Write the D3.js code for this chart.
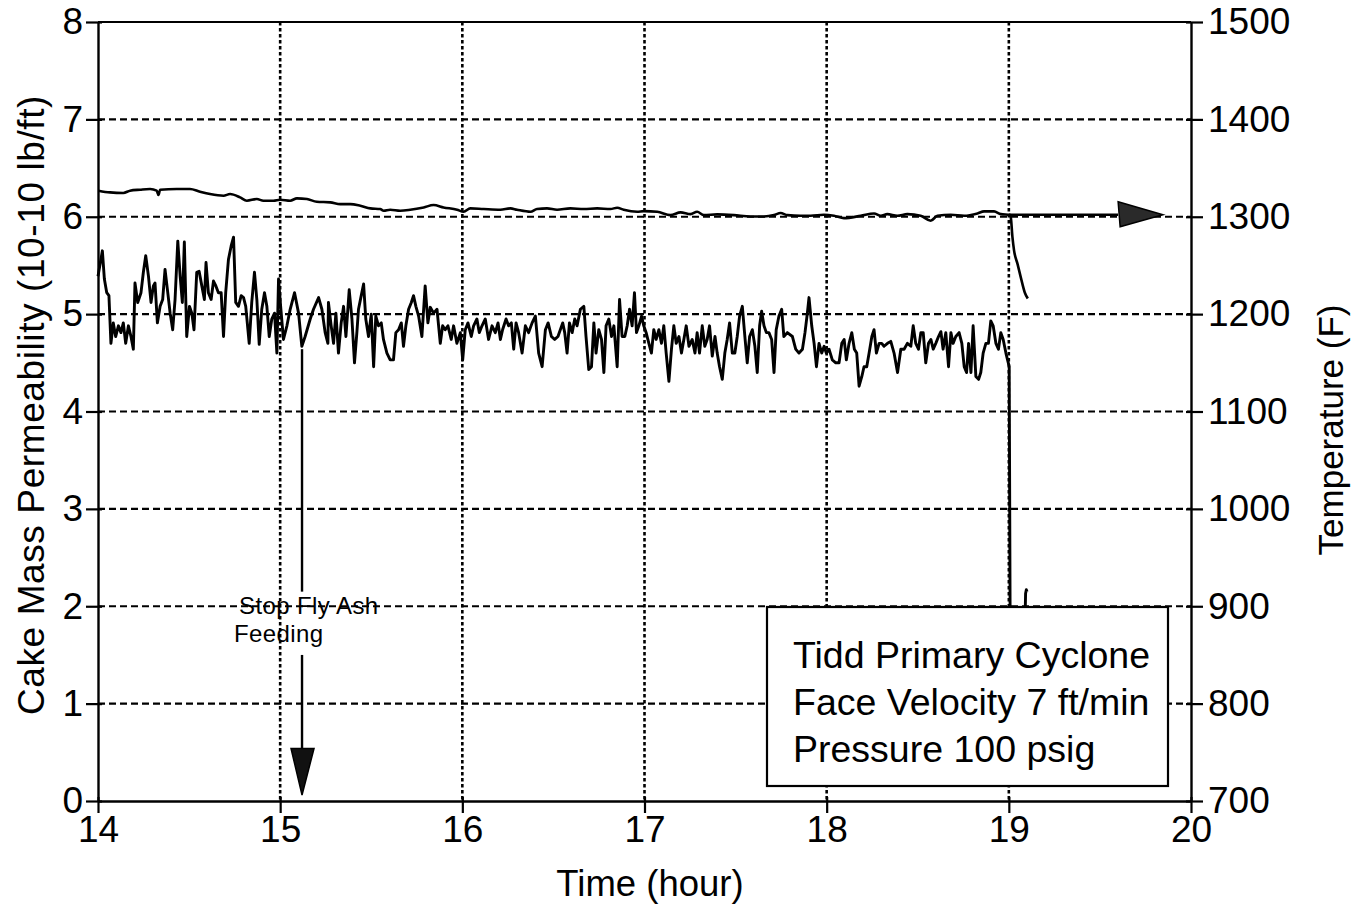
<!DOCTYPE html>
<html><head><meta charset="utf-8">
<script src="https://cdn.jsdelivr.net/npm/d3@7"></script>
<style>
html,body{margin:0;padding:0;background:#fff;}
svg text{font-family:"Liberation Sans",Arial,Helvetica,sans-serif;fill:#000;}
</style></head>
<body><svg id="chart" width="1361" height="909"></svg>
<script>
// ---- data ----
const xTicks = [14, 15, 16, 17, 18, 19, 20];
const yLeftTicks = [0, 1, 2, 3, 4, 5, 6, 7, 8];
const yRightTicks = [700, 800, 900, 1000, 1100, 1200, 1300, 1400, 1500];
const xGrid = [15, 16, 17, 18, 19];
const yGrid = [1, 2, 3, 4, 5, 6, 7];

const permTime = [
14.000,14.024,14.035,14.048,14.060,14.071,14.084,14.097,14.112,14.126,14.139,14.152,14.167,14.181,14.194,14.203,14.218,14.236,14.249,14.262,
14.277,14.291,14.304,14.313,14.326,14.341,14.355,14.368,14.383,14.396,14.410,14.423,14.438,14.451,14.463,14.474,14.487,14.502,14.515,14.527,
14.542,14.555,14.570,14.584,14.593,14.606,14.621,14.634,14.647,14.661,14.676,14.689,14.701,14.716,14.731,14.744,14.756,14.771,14.786,14.799,
14.811,14.830,14.844,14.859,14.872,14.885,14.899,14.914,14.927,14.940,14.954,14.969,14.982,14.991,15.004,15.018,15.037,15.055,15.079,15.101,
15.119,15.137,15.165,15.183,15.211,15.229,15.247,15.262,
15.265,15.280,15.293,15.306,15.320,15.335,15.348,15.361,15.379,15.394,15.408,15.421,15.430,15.445,15.458,15.470,15.485,15.500,15.513,15.525,
15.540,15.555,15.567,15.586,15.604,15.622,15.635,15.650,15.665,15.677,15.690,15.705,15.720,15.732,15.745,15.760,15.778,15.796,15.811,15.824,
15.842,15.861,15.879,15.892,15.906,15.921,15.939,15.952,15.970,15.989,16.002,16.016,16.031,16.049,16.062,16.080,16.093,16.108,16.126,16.144,
16.163,16.181,16.196,16.209,16.221,16.240,16.254,16.269,16.282,16.295,16.309,16.328,16.346,16.364,16.383,16.401,16.419,16.438,16.456,16.471,
16.489,16.507,16.525,
16.551,16.562,16.575,16.588,16.603,16.617,16.630,16.648,16.667,16.679,16.694,16.709,16.722,16.734,16.749,16.764,16.777,16.789,16.804,16.819,
16.832,16.850,16.863,16.877,16.892,16.905,16.918,16.932,16.945,16.956,16.969,16.984,16.996,17.009,17.024,17.038,17.051,17.064,17.079,17.093,
17.106,17.119,17.134,17.148,17.161,17.174,17.189,17.203,17.216,17.229,17.244,17.262,17.277,17.289,17.302,17.317,17.331,17.344,17.357,17.372,
17.387,17.399,17.412,17.427,17.441,17.454,17.467,17.482,17.496,17.509,17.522,17.537,17.551,17.564,17.577,17.592,17.606,17.619,17.632,17.643,
17.656,17.669,17.683,17.698,17.711,17.723,17.738,17.753,17.765,17.784,
17.812,17.830,17.848,17.867,17.881,17.894,17.903,17.918,17.931,17.944,17.958,17.973,17.986,17.998,18.013,18.031,18.050,18.068,18.083,18.096,
18.108,18.123,18.138,18.152,18.165,18.178,18.193,18.205,18.220,18.233,18.248,18.260,18.273,18.288,18.302,18.315,18.334,18.352,18.370,18.389,
18.407,18.425,18.443,18.462,18.475,18.489,18.504,18.517,18.530,18.544,18.559,18.572,18.585,18.599,18.614,18.627,18.639,18.654,18.669,18.682,
18.694,18.709,18.727,18.742,18.755,18.768,18.779,18.792,18.804,18.819,18.834,18.846,18.859,18.874,18.888,18.901,18.914,18.929,18.943,18.956,
18.969,18.984,18.993,19.002,19.010,19.060,19.090,19.092,19.096,19.100
];
const permValue = [
5.39,5.65,5.36,5.22,5.19,4.70,4.91,4.77,4.88,4.81,4.91,4.70,4.88,4.77,4.64,5.32,5.12,5.22,5.43,5.60,
5.39,5.12,5.29,5.32,4.91,5.08,5.15,5.46,5.22,5.01,4.84,5.15,5.75,5.39,5.12,5.74,4.77,5.08,5.01,4.84,
5.43,5.44,5.29,5.15,5.53,5.22,5.15,5.34,5.29,5.22,5.22,4.77,5.22,5.56,5.70,5.79,5.12,5.08,5.19,5.17,
5.08,4.70,5.12,5.43,5.15,4.69,5.05,5.22,5.08,4.77,4.95,5.01,4.60,5.36,5.05,4.74,4.88,5.05,5.22,5.01,
4.67,4.77,4.95,5.05,5.17,5.05,4.81,4.70,
5.12,4.88,4.70,5.01,4.60,4.91,5.08,4.77,5.25,4.95,4.50,4.81,5.05,5.19,5.31,4.95,4.77,5.00,4.46,4.98,
4.88,4.91,4.74,4.60,4.53,4.53,4.81,4.84,4.91,4.67,4.88,5.05,5.12,5.19,5.08,4.98,4.77,5.29,4.91,5.07,
5.01,5.05,4.70,4.88,4.84,4.88,4.74,4.88,4.70,4.81,4.53,4.84,4.91,4.77,4.88,4.95,4.81,4.88,4.95,4.74,
4.88,4.81,4.91,4.74,4.84,4.95,4.88,4.91,4.64,4.91,4.81,4.60,4.88,4.81,4.91,4.98,4.60,4.46,4.84,4.91,
4.77,4.74,4.77,
4.91,4.81,4.60,4.91,4.81,4.95,4.88,5.05,5.08,4.77,4.43,4.46,4.91,4.60,4.84,4.74,4.40,4.88,4.95,4.77,
4.88,4.46,5.15,4.77,4.77,4.88,5.05,4.88,5.22,4.81,4.88,4.98,4.88,4.81,4.70,4.60,4.84,4.74,4.84,4.70,
4.88,4.60,4.31,4.64,4.88,4.70,4.77,4.60,4.74,4.88,4.67,4.74,4.60,4.81,4.60,4.88,4.67,4.74,4.88,4.57,
4.77,4.60,4.46,4.33,4.60,4.74,4.91,4.60,4.60,4.77,4.98,5.08,4.77,4.50,4.77,4.84,4.67,4.40,4.88,5.03,
4.88,4.81,4.81,4.74,4.40,4.84,4.98,5.05,4.77,4.81,
4.77,4.64,4.60,4.64,4.81,5.01,5.17,4.88,4.70,4.46,4.70,4.60,4.67,4.60,4.64,4.53,4.50,4.50,4.70,4.74,
4.53,4.70,4.81,4.64,4.60,4.26,4.36,4.46,4.46,4.60,4.77,4.84,4.60,4.70,4.70,4.67,4.70,4.72,4.60,4.40,
4.64,4.64,4.70,4.67,4.88,4.70,4.64,4.81,4.81,4.50,4.70,4.74,4.64,4.70,4.77,4.82,4.64,4.81,4.46,4.81,
4.70,4.77,4.81,4.70,4.46,4.40,4.70,4.40,4.88,4.36,4.33,4.40,4.60,4.70,4.70,4.93,4.88,4.70,4.64,4.81,
4.74,4.60,4.53,4.46,0.40,1.20,1.95,2.13,2.17,2.15
];

const tempTime = [
14.002,14.066,14.139,14.176,14.231,14.286,14.322,14.332,14.341,14.432,14.505,14.560,14.615,14.689,14.725,14.780,14.817,14.872,14.908,14.963,
15.000,15.055,15.092,15.147,15.201,15.275,15.330,15.385,15.440,15.495,15.549,15.568,15.604,15.659,15.714,15.788,15.842,15.897,15.971,
16.007,16.044,16.117,16.209,16.264,16.300,16.374,16.410,16.465,16.520,16.593,16.667,16.740,16.813,16.850,16.886,16.960,16.996,17.070,17.143,
17.198,17.253,17.289,17.326,17.399,17.491,17.582,17.656,17.711,17.747,17.784,17.857,
17.912,17.985,18.040,18.095,18.187,18.260,18.297,18.333,18.388,18.443,18.516,18.571,18.608,18.681,18.755,18.828,18.864,18.919,18.956,19.007,
19.011,19.020,19.029,19.048,19.066,19.088,19.104
];
const tempValue = [
1326.8,1325.0,1324.4,1326.8,1327.8,1328.5,1326.8,1322.3,1327.8,1328.5,1328.5,1325.7,1323.3,1321.6,1323.3,1319.9,1316.5,1318.2,1316.5,1316.5,
1317.5,1316.5,1318.9,1318.2,1315.4,1314.8,1313.0,1313.0,1311.3,1308.6,1307.9,1306.2,1307.2,1306.2,1307.2,1309.6,1312.0,1309.6,1307.2,
1305.1,1308.6,1307.9,1307.2,1308.6,1307.2,1305.1,1307.9,1308.6,1307.2,1308.6,1307.9,1308.6,1307.9,1309.3,1307.2,1305.1,1305.8,1305.1,1301.7,
1304.5,1302.7,1305.1,1301.7,1302.4,1301.7,1300.3,1300.3,1301.7,1303.8,1301.7,1301.0,
1301.0,1302.0,1301.0,1298.6,1301.0,1303.4,1301.0,1302.7,1301.0,1302.7,1301.0,1295.9,1301.0,1302.0,1301.0,1303.4,1305.5,1305.5,1302.7,1302.0,
1299.3,1278.7,1265.0,1251.3,1237.5,1222.0,1216.0
];

// annotations
const feedArrowTime = 15.12;
const feedArrowSegments = [[4.64, 2.15], [1.50, 0.52]];
const feedArrowTip = 0.06;
const feedLabel = ["Stop Fly Ash", "Feeding"];
const tempArrow = {t0: 19.0, t1: 19.6, tip: 19.846, value: 1302};
const boxLines = ["Tidd Primary Cyclone", "Face Velocity 7 ft/min", "Pressure 100 psig"];

// ---- layout ----
const L = 98, R = 1191, T = 22, B = 801;
const svg = d3.select("#chart");
const x = d3.scaleLinear().domain([14, 20]).range([L, R]);
const yL = d3.scaleLinear().domain([0, 8]).range([B, T]);
const yR = d3.scaleLinear().domain([700, 1500]).range([B, T]);

// grid
svg.append("g").selectAll("line").data(yGrid).join("line")
  .attr("x1", L).attr("x2", R).attr("y1", d => yL(d)).attr("y2", d => yL(d))
  .attr("stroke", "#000").attr("stroke-width", 2.2).attr("stroke-dasharray", "7,4");
svg.append("g").selectAll("line").data(xGrid).join("line")
  .attr("y1", T).attr("y2", B).attr("x1", d => x(d)).attr("x2", d => x(d))
  .attr("stroke", "#000").attr("stroke-width", 2.6).attr("stroke-dasharray", "3.5,2.5");

// frame top
svg.append("line").attr("x1", L).attr("x2", R).attr("y1", T).attr("y2", T)
  .attr("stroke", "#000").attr("stroke-width", 2);

// data lines
const permData = permTime.map((t, i) => [t, permValue[i]]);
const tempData = tempTime.map((t, i) => [t, tempValue[i]]);
svg.append("path").datum(permData)
  .attr("fill", "none").attr("stroke", "#000").attr("stroke-width", 2.9).attr("stroke-linejoin", "round")
  .attr("d", d3.line().x(d => x(d[0])).y(d => yL(d[1])));
svg.append("path").datum(tempData)
  .attr("fill", "none").attr("stroke", "#000").attr("stroke-width", 2.6).attr("stroke-linejoin", "round")
  .attr("d", d3.line().curve(d3.curveMonotoneX).x(d => x(d[0])).y(d => yR(d[1])));

// temperature arrow
svg.append("line").attr("x1", x(tempArrow.t0)).attr("x2", x(tempArrow.t1))
  .attr("y1", yR(tempArrow.value)).attr("y2", yR(tempArrow.value))
  .attr("stroke", "#000").attr("stroke-width", 2.4);
svg.append("path")
  .attr("d", `M${x(tempArrow.t1)},${yR(tempArrow.value) - 13} L${x(tempArrow.tip)},${yR(tempArrow.value)} L${x(tempArrow.t1) + 2},${yR(tempArrow.value) + 12} Z`)
  .attr("fill", "#2a2a2a").attr("stroke", "#000").attr("stroke-width", 1.5);

// feeding arrow
feedArrowSegments.forEach(s => {
  svg.append("line").attr("x1", x(feedArrowTime)).attr("x2", x(feedArrowTime))
    .attr("y1", yL(s[0])).attr("y2", yL(s[1]))
    .attr("stroke", "#000").attr("stroke-width", 2.4);
});
const ax = x(feedArrowTime);
svg.append("path")
  .attr("d", `M${ax - 11},${yL(0.54)} L${ax + 12},${yL(0.54)} L${ax},${yL(feedArrowTip)} Z`)
  .attr("fill", "#111").attr("stroke", "#000").attr("stroke-width", 1.5);
svg.append("text").attr("x", 239).attr("y", 614).attr("font-size", 24).attr("letter-spacing", 0.4).text(feedLabel[0]);
svg.append("text").attr("x", 234).attr("y", 642).attr("font-size", 24).attr("letter-spacing", 0.4).text(feedLabel[1]);

// legend box
svg.append("rect").attr("x", 767).attr("y", 607).attr("width", 401).attr("height", 179)
  .attr("fill", "#fff").attr("stroke", "#000").attr("stroke-width", 2.2);
boxLines.forEach((s, i) => {
  svg.append("text").attr("x", 793).attr("y", 668 + i * 47).attr("font-size", 37.5).text(s);
});

// axes
function styleAxis(g) {
  g.selectAll(".domain").attr("stroke", "#000").attr("stroke-width", 2.4);
  g.selectAll(".tick line").attr("stroke", "#000").attr("stroke-width", 2.2);
  g.selectAll(".tick text").attr("font-size", 37).attr("font-family", "Liberation Sans, Arial, sans-serif").attr("fill", "#000");
}
const gL = svg.append("g").attr("transform", `translate(${L},0)`)
  .call(d3.axisLeft(yL).tickValues(yLeftTicks).tickFormat(d3.format("d")).tickSize(12).tickSizeOuter(0).tickPadding(3));
gL.selectAll(".tick line").attr("x1", 4);
styleAxis(gL);
const gR = svg.append("g").attr("transform", `translate(${R},0)`)
  .call(d3.axisRight(yR).tickValues(yRightTicks).tickFormat(d3.format("d")).tickSize(12).tickSizeOuter(0).tickPadding(5));
gR.selectAll(".tick line").attr("x1", -5);
styleAxis(gR);
const gB = svg.append("g").attr("transform", `translate(0,${B})`)
  .call(d3.axisBottom(x).tickValues(xTicks).tickFormat(d3.format("d")).tickSize(12).tickSizeOuter(0).tickPadding(3));
gB.selectAll(".tick line").attr("y1", -4);
styleAxis(gB);

// titles
svg.append("text").attr("transform", "translate(44,405) rotate(-90)").attr("text-anchor", "middle")
  .attr("font-size", 37).attr("letter-spacing", 0.6).text("Cake Mass Permeability (10-10 lb/ft)");
svg.append("text").attr("transform", "translate(1343,430) rotate(-90)").attr("text-anchor", "middle")
  .attr("font-size", 35).text("Temperature (F)");
svg.append("text").attr("x", 650).attr("y", 896).attr("text-anchor", "middle")
  .attr("font-size", 36.5).text("Time (hour)");
</script></body></html>
